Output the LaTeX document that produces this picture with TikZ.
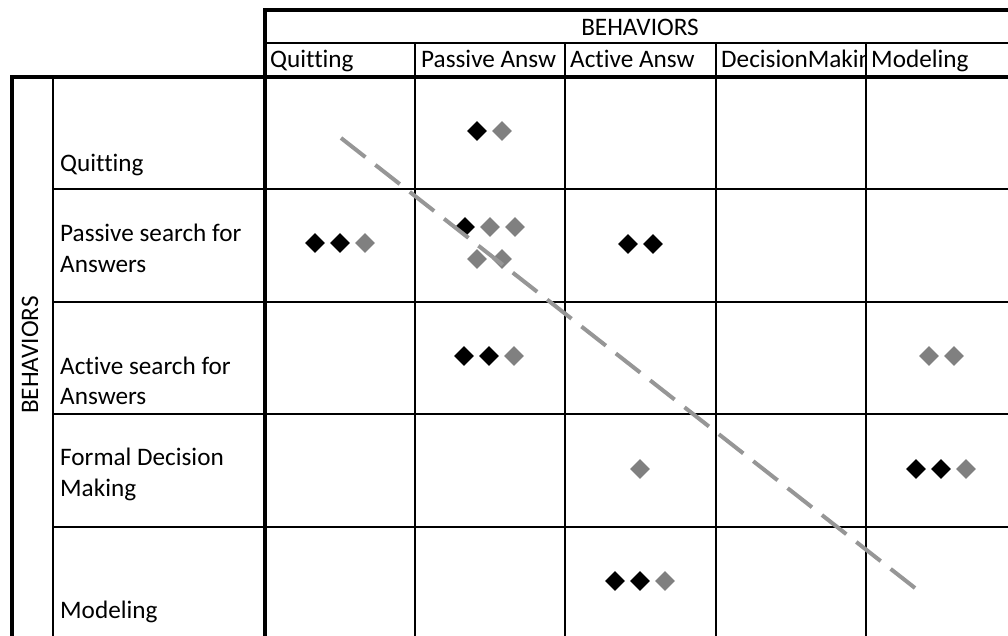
\documentclass[tikz,border=0pt]{standalone}
\usepackage{fontspec}
\setmainfont{Carlito}[Ligatures=NoCommon]
\usetikzlibrary{shapes.geometric}
\definecolor{markgray}{RGB}{128,128,128}
\definecolor{trendgray}{RGB}{150,150,150}
\begin{document}
\begin{tikzpicture}[x=1pt,y=-1pt,
  thickrule/.style={line width=4.5pt, line join=miter},
  thinrule/.style={line width=1.4pt},
  lbl/.style={inner sep=0pt, anchor=base west, font=\fontsize{25.2}{30}\selectfont},
  mk/.style={diamond, inner sep=0pt, minimum width=20pt, minimum height=20pt, draw=none},
  mkb/.style={mk, fill=black},
  mkg/.style={mk, fill=markgray},
  trend/.style={draw=trendgray, line width=4pt, dash pattern=on 31pt off 12.65pt}
]
\useasboundingbox (0,0) rectangle (1008,636);

% thin grid
\draw[thinrule] (265,43) -- (1008,43);
\foreach \cx in {415,565,716,866} \draw[thinrule] (\cx,43) -- (\cx,636);
\foreach \ry in {189,302,414,527} \draw[thinrule] (53,\ry) -- (1008,\ry);
\draw[thinrule] (53,77) -- (53,636);

% heavy frame
\draw[thickrule] (265,636) -- (265,10) -- (1008,10);
\draw[thickrule] (12,636) -- (12,77) -- (1008,77);

% headings
\node[lbl, anchor=base] (colhead) at (640,36) {BEHAVIORS};
\node[lbl, anchor=base, rotate=90] (rowhead) at (38,355) {BEHAVIORS};

% column labels
\node[lbl] (cQuit) at (270,68) {Quitting};
\node[lbl] (cPass) at (421,68) {Passive Answ};
\node[lbl] (cAct) at (570,68) {Active Answ};
\begin{scope}
  % the cell cuts its overlong label at the column rule
  \clip (716,43) rectangle (866,77);
  \node[lbl] (cDec) at (721,68) {\makebox[140pt][l]{DecisionMaking}};
\end{scope}
\node[lbl] (cMod) at (871,68) {Modeling};

% row labels
\node[lbl] (rQuit) at (60,172) {Quitting};
\node[lbl] (rPassA) at (60,241) {Passive search for};
\node[lbl] (rPassB) at (60,272) {Answers};
\node[lbl] (rActA) at (60,374) {Active search for};
\node[lbl] (rActB) at (60,404) {Answers};
\node[lbl] (rFormA) at (60,465) {Formal Decision};
\node[lbl] (rFormB) at (60,496) {Making};
\node[lbl] (rMod) at (60,618) {Modeling};

% markers
\node[mkb] (m1) at (477,131) {};
\node[mkg] (m2) at (502,131) {};

\node[mkb] (m3) at (315,243) {};
\node[mkb] (m4) at (340,243) {};
\node[mkg] (m5) at (365,243) {};

\node[mkb] (m6) at (465,227) {};
\node[mkg] (m7) at (490,227) {};
\node[mkg] (m8) at (515,227) {};
\node[mkg] (m9) at (477,259) {};
\node[mkg] (m10) at (502,259) {};

\node[mkb] (m11) at (628,244) {};
\node[mkb] (m12) at (653,244) {};

\node[mkb] (m13) at (464,356) {};
\node[mkb] (m14) at (489,356) {};
\node[mkg] (m15) at (514,356) {};

\node[mkg] (m16) at (929,356) {};
\node[mkg] (m17) at (954,356) {};

\node[mkg] (m18) at (640,469) {};

\node[mkb] (m19) at (916,469) {};
\node[mkb] (m20) at (941,469) {};
\node[mkg] (m21) at (966,469) {};

\node[mkb] (m22) at (615,581) {};
\node[mkb] (m23) at (640,581) {};
\node[mkg] (m24) at (665,581) {};

% dashed trend line
\coordinate (tStart) at (341,138);
\coordinate (tEnd) at (915,588);
\draw[trend] (tStart) -- (tEnd);
\end{tikzpicture}
\end{document}
